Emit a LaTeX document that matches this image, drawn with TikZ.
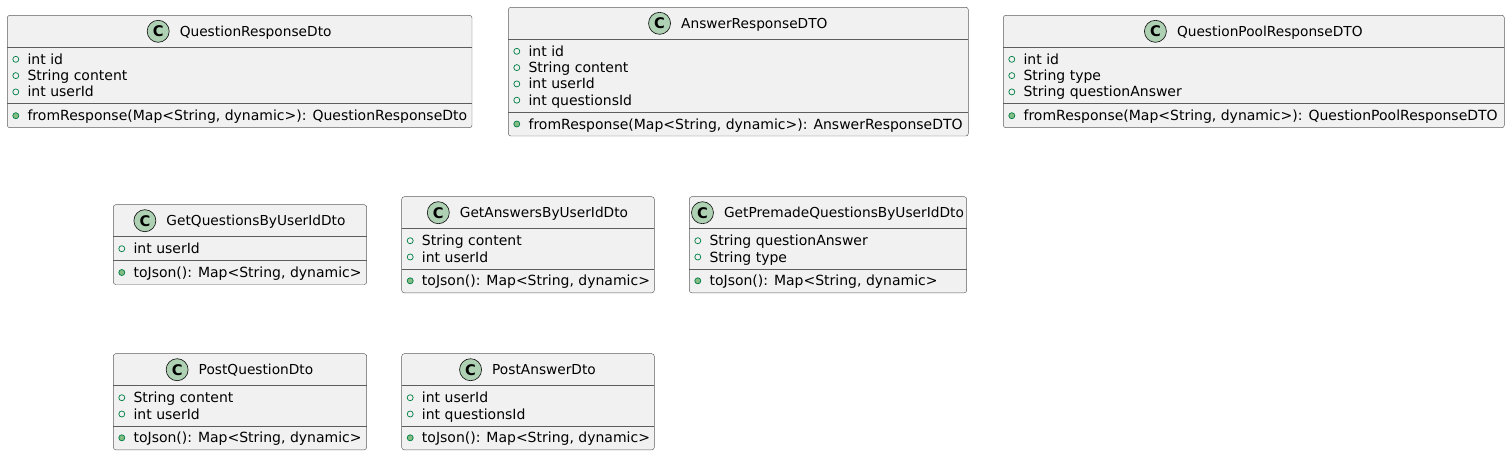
\documentclass[tikz,border=0pt]{standalone}
\usepackage{fontspec}
\setmainfont{DejaVu Sans}
\usetikzlibrary{fit}

\definecolor{boxfill}{HTML}{F1F1F1}
\definecolor{boxline}{HTML}{181818}
\definecolor{iconfill}{HTML}{ADD1B2}
\definecolor{visline}{HTML}{038048}
\definecolor{visfill}{HTML}{84BE84}

\tikzset{
  classbox/.style={draw=boxline!70,fill=boxfill,line width=.35pt,rounded corners=1.9pt,inner sep=0pt},
  sepline/.style={draw=boxline!70,line width=.35pt},
  titletext/.style={inner sep=0pt,anchor=base,font=\fontsize{10.3}{12.4}\selectfont},
  cicon/.style={circle,draw=boxline,fill=iconfill,line width=.5pt,minimum size=16.5pt,
    inner sep=0pt,font=\fontsize{11}{11}\selectfont\bfseries},
  membertext/.style={inner sep=0pt,anchor=base west},
  fieldicon/.style={circle,draw=visline,line width=.55pt,minimum size=4.5pt,inner sep=0pt},
  methodicon/.style={fieldicon,fill=visfill},
}

% id, left, top, right, number of fields, title, fields, method
\newcommand{\dtoclass}[8]{%
  \pgfmathsetmacro\dtohs{#3+32}
  \pgfmathsetmacro\dtoms{#3+32+16.3*#5+7.5}
  \pgfmathsetmacro\dtobt{\dtoms+24}
  \pgfmathsetmacro\dtohy{#3+16}
  \node[classbox,fit={(#2,#3) (#4,\dtobt)}] (#1) {};
  \draw[sepline] (#2,\dtohs) -- (#4,\dtohs);
  \draw[sepline] (#2,\dtoms) -- (#4,\dtoms);
  \node[titletext] (#1-t) at ({(#2+#4)/2+16},\dtohy+5) {#6};
  \node[cicon,anchor=east,xshift=-7.5pt] (#1-c) at (#1-t.west |- 0,\dtohy) {C};
  \foreach \f [count=\i] in {#7}{
    \pgfmathsetmacro\dtofy{#3+44+16.3*(\i-1)}
    \node[fieldicon] (#1-fi\i) at (#2+8.5,\dtofy) {};
    \node[membertext] (#1-f\i) at (#2+20,\dtofy+5) {\f};
  }
  \node[methodicon] (#1-mi) at (#2+8.5,\dtoms+12) {};
  \node[membertext] (#1-m) at (#2+20,\dtoms+17) {#8};
}

\begin{document}
\begin{tikzpicture}[x=.75pt,y=-.75pt,font=\fontsize{10.5}{12.6}\selectfont]
  \useasboundingbox (0,0) rectangle (1510,455);
  % top row
  \dtoclass{qresp}{7.3}{15.3}{472}{3}{QuestionResponseDto}
    {int id,String content,int userId}
    {fromResponse(Map<String, dynamic>): QuestionResponseDto}
  \dtoclass{aresp}{508.3}{7.3}{968.3}{4}{AnswerResponseDTO}
    {int id,String content,int userId,int questionsId}
    {fromResponse(Map<String, dynamic>): AnswerResponseDTO}
  \dtoclass{qpool}{1003.3}{15.3}{1504.3}{3}{QuestionPoolResponseDTO}
    {int id,String type,String questionAnswer}
    {fromResponse(Map<String, dynamic>): QuestionPoolResponseDTO}
  % middle row
  \dtoclass{getq}{113.3}{204.7}{366.7}{1}{GetQuestionsByUserIdDto}
    {int userId}
    {toJson(): Map<String, dynamic>}
  \dtoclass{geta}{401.7}{196.7}{654.3}{2}{GetAnswersByUserIdDto}
    {String content,int userId}
    {toJson(): Map<String, dynamic>}
  \dtoclass{getpq}{689.3}{196.7}{966.7}{2}{GetPremadeQuestionsByUserIdDto}
    {String questionAnswer,String type}
    {toJson(): Map<String, dynamic>}
  % bottom row
  \dtoclass{postq}{113.3}{353.7}{366.7}{2}{PostQuestionDto}
    {String content,int userId}
    {toJson(): Map<String, dynamic>}
  \dtoclass{posta}{401.7}{353.7}{654.3}{2}{PostAnswerDto}
    {int userId,int questionsId}
    {toJson(): Map<String, dynamic>}
\end{tikzpicture}
\end{document}
